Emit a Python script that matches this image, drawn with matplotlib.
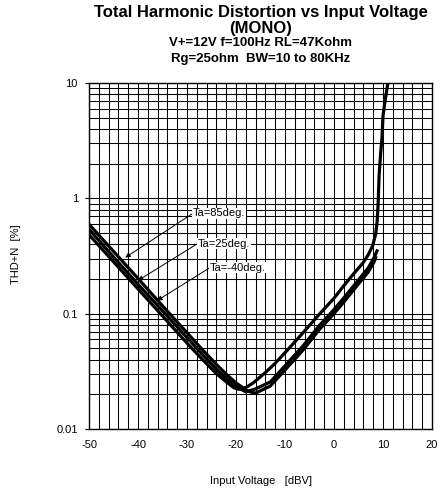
import numpy as np, matplotlib
matplotlib.use("Agg")
import matplotlib.pyplot as plt
import matplotlib.ticker as mticker

plt.rcParams["font.family"] = ["Liberation Sans", "DejaVu Sans"]
plt.rcParams["axes.unicode_minus"] = False

# THD+N [%] vs input level [dBV]
x_85 = [-50, -45, -40, -35, -30, -27, -24, -22, -20, -18, -17, -16, -13, -10, -6.3, -3, -0.4, 2, 4.5, 7, 8.2, 8.6]
y_85 = [0.596, 0.347, 0.202, 0.117, 0.0684, 0.0495, 0.0363, 0.0299, 0.0251, 0.0219, 0.0209, 0.0205,
        0.0236, 0.0325, 0.0485, 0.0728, 0.096, 0.126, 0.171, 0.23, 0.283, 0.316]
x_25 = [-50, -45, -40, -35, -30, -27, -24, -22, -20, -18, -16, -13, -10, -6.3, -3, -0.4, 2, 4.5, 7, 8.2, 8.9]
y_25 = [0.54, 0.31, 0.18, 0.106, 0.062, 0.045, 0.033, 0.0275, 0.0234, 0.021, 0.0223, 0.0256, 0.0353,
        0.0527, 0.079, 0.104, 0.137, 0.185, 0.25, 0.308, 0.361]
x_m40 = [-50, -45, -40, -35, -30, -27, -24, -22, -20.5, -19.5, -18, -16.5, -14, -12, -9.6, -6, -2.9, 0,
         2, 4, 5.9, 7, 7.9, 8.5, 8.8, 9.0, 9.2, 9.5, 9.8, 10.0, 10.5, 11.0]
y_m40 = [0.484, 0.282, 0.164, 0.0955, 0.0556, 0.0407, 0.0302, 0.0257, 0.0229, 0.0221, 0.0229, 0.0251,
         0.0309, 0.0372, 0.0479, 0.0708, 0.1, 0.136, 0.175, 0.222, 0.275, 0.325, 0.39, 0.49, 0.63, 0.89,
         1.58, 2.4, 3.4, 5.2, 7.4, 10.0]

labels = ["Ta=85deg.", "Ta=25deg.", "Ta=-40deg."]
arrow_x = [-42.6, -40.0, -36.1]
arrow_y = [0.307, 0.194, 0.130]

xticks = [-50, -40, -30, -20, -10, 0, 10, 20]
yticks = [0.01, 0.1, 1, 10]

fig = plt.figure(figsize=(4.42, 4.96), dpi=100)
ax = fig.add_axes([0.2014, 0.135, 0.776, 0.6976])

for xs, ys in [(x_85, y_85), (x_25, y_25), (x_m40, y_m40)]:
    ax.plot(xs, ys, color="black", lw=2.3, solid_capstyle="butt", zorder=3)

ax.set_yscale("log")
ax.set_xlim(-50, 20); ax.set_ylim(0.01, 10)
ax.set_xticks(xticks)
ax.set_xticks(np.arange(-50, 21, 2), minor=True)
ax.set_yticks(yticks)
ax.yaxis.set_major_formatter(mticker.FuncFormatter(lambda v, p: f"{v:g}"))
ax.yaxis.set_minor_locator(mticker.LogLocator(base=10, subs=np.arange(2, 10)))
ax.yaxis.set_minor_formatter(mticker.NullFormatter())
ax.grid(True, which="both", color="black", lw=0.75)
ax.tick_params(axis="both", which="both", length=0, labelsize=8, pad=8)
ax.tick_params(axis="y", which="major", length=3, pad=5)
for s in ax.spines.values():
    s.set_linewidth(1.0)

# label positions (text left edge, centre)
txt_pos = [(-28.8, 0.741), (-27.8, 0.406), (-25.3, 0.251)]
for lab, (tx, ty), axx, ayy in zip(labels, txt_pos, arrow_x, arrow_y):
    ax.annotate(lab, xy=(axx, ayy), xytext=(tx, ty), ha="left", va="center", fontsize=8,
                bbox=dict(boxstyle="square,pad=0.05", fc="white", ec="none"),
                arrowprops=dict(arrowstyle="-|>", color="black", lw=0.7, mutation_scale=7,
                                shrinkA=0, shrinkB=0, relpos=(0, 0.5)), zorder=4)

cx = 0.2014 + 0.776 / 2
fig.text(cx, 1 - 13 / 496, "Total Harmonic Distortion vs Input Voltage", ha="center", va="center",
         fontsize=12, fontweight="bold")
fig.text(cx, 1 - 28.5 / 496, "(MONO)", ha="center", va="center", fontsize=12, fontweight="bold")
fig.text(cx, 1 - 43 / 496, "V+=12V f=100Hz RL=47Kohm", ha="center", va="center", fontsize=9.5,
         fontweight="bold")
fig.text(cx, 1 - 59 / 496, "Rg=25ohm  BW=10 to 80KHz", ha="center", va="center", fontsize=9.5,
         fontweight="bold")
fig.text(cx, 1 - 481 / 496, "Input Voltage   [dBV]", ha="center", va="center", fontsize=8)
fig.text(16 / 442, 1 - 254 / 496, "THD+N  [%]", ha="center", va="center", rotation=90, fontsize=8)

fig.savefig("out.png", dpi=100)
